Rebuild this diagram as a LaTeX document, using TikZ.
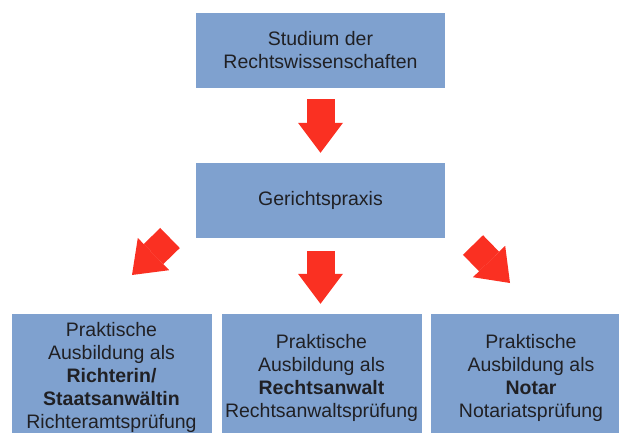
\documentclass[tikz,border=0pt]{standalone}
\usepackage{fontspec}
\setmainfont{Liberation Sans}
\usepackage{tikz}
\usetikzlibrary{arrows.meta, positioning}
\definecolor{boxblue}{RGB}{127,161,207}
\definecolor{arrred}{RGB}{250,48,34}
\definecolor{txtdark}{RGB}{32,32,36}
\tikzset{
  stagebox/.style={rectangle, fill=boxblue, text=txtdark, align=center,
    inner sep=0pt, minimum width=249pt, minimum height=75pt,
    font=\fontsize{19.5}{23}\selectfont},
  endbox/.style={stagebox, minimum width=200pt, minimum height=127pt},
  bigarrow/.style={draw=arrred, line width=28pt,
    -{Triangle[length=30pt, width=45pt, line width=0pt]}}
}

\begin{document}
\begin{tikzpicture}[x=1pt, y=-1pt]
  \useasboundingbox (0,0) rectangle (619,432);
  \clip (0,0) rectangle (619,432);
  \node[stagebox] (studium) at (320.5,50.5) {Studium der\\Rechtswissenschaften};
  \node[stagebox] (gericht) at (320.5,200.5) {Gerichtspraxis};
  \node[endbox] (richter) at (111.5,377.5) {Praktische\\Ausbildung als\\\textbf{Richterin/}\\\textbf{Staatsanwältin}\\Richteramtsprüfung};
  \node[endbox] (anwalt) at (321.5,377.5) {Praktische\\Ausbildung als\\\textbf{Rechtsanwalt}\\Rechtsanwaltsprüfung};
  \node[endbox] (notar) at (531,377.5) {Praktische\\Ausbildung als\\\textbf{Notar}\\Notariatsprüfung};

  % side arrows start beside the lower edge of Gerichtspraxis
  \coordinate (ltail) at (170,238);
  \coordinate (ltip) at (132,275);
  \coordinate (rtail) at (473,245);
  \coordinate (rtip) at (510,283);

  \draw[bigarrow, shorten <=11pt, shorten >=10pt] (studium) -- (gericht);
  \draw[bigarrow, shorten <=13pt, shorten >=10pt] (gericht.south) -- (gericht.south |- anwalt.north);
  \draw[bigarrow] (ltail) -- (ltip);
  \draw[bigarrow] (rtail) -- (rtip);
\end{tikzpicture}
\end{document}
